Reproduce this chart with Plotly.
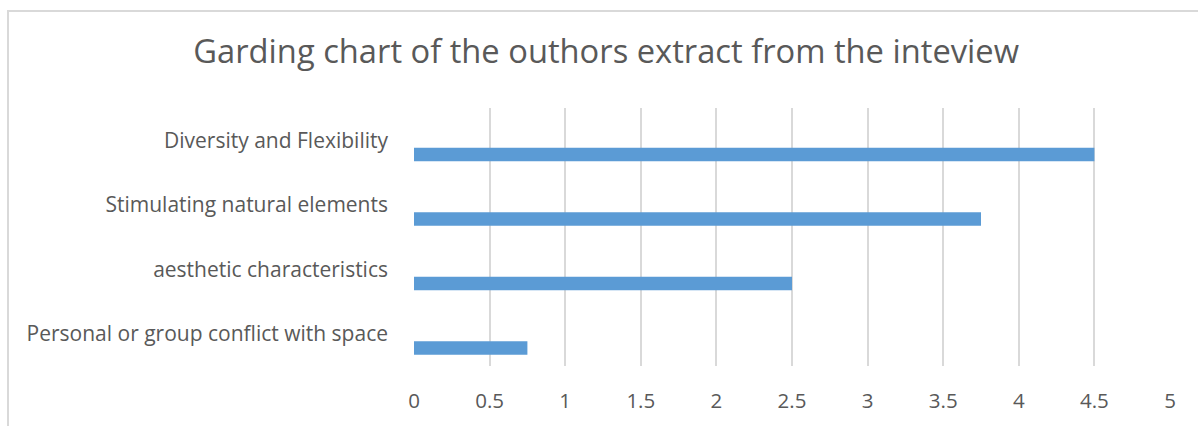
import plotly.graph_objects as go

categories = [
    "Personal or group conflict with space",
    "aesthetic characteristics",
    "Stimulating natural elements",
    "Diversity and Flexibility",
]
values = [0.75, 2.5, 3.75, 4.5]
x_ticks = [0, 0.5, 1, 1.5, 2, 2.5, 3, 3.5, 4, 4.5, 5]
x_tick_labels = ["0", "0.5", "1", "1.5", "2", "2.5", "3", "3.5", "4", "4.5", "5"]

TXT = "#595959"
FONT = "Open Sans"

fig = go.Figure(
    go.Bar(
        x=values,
        y=categories,
        orientation="h",
        marker=dict(color="#5b9bd5", line=dict(width=0)),
        width=0.21,
        offset=-0.325,
        hoverinfo="x+y",
    )
)

L, R, T, B = 414, 28, 108, 56
W, H = 1198, 426
pw, ph = W - L - R, H - T - B

fig.add_shape(
    type="rect", xref="paper", yref="paper",
    x0=(8 - L) / pw, x1=1.2,
    y0=-0.5, y1=(H - B - 9.5) / ph,
    line=dict(color="#d9d9d9", width=2),
    layer="below",
)

fig.update_layout(
    width=W, height=H,
    margin=dict(l=L, r=R, t=T, b=B, pad=0),
    paper_bgcolor="white", plot_bgcolor="white",
    showlegend=False,
    title=dict(
        text="Garding chart of the outhors extract from the inteview",
        x=0.506, xanchor="center", xref="container",
        y=1 - 52 / H, yanchor="middle", yref="container",
        font=dict(family=FONT, size=32.7, color=TXT),
    ),
    font=dict(family=FONT, color=TXT),
    xaxis=dict(
        range=[0, 5],
        tickvals=x_ticks, ticktext=x_tick_labels,
        showgrid=True, gridcolor="#d9d9d9", gridwidth=1.5,
        zeroline=False, showline=False,
        ticks="", ticklabelstandoff=20,
        tickfont=dict(family=FONT, size=20.5, color=TXT),
        fixedrange=True,
    ),
    yaxis=dict(
        type="category",
        categoryorder="array", categoryarray=categories,
        range=[-0.5, 3.5],
        showgrid=False, zeroline=False, showline=False,
        ticks="", ticklabelstandoff=25,
        tickfont=dict(family=FONT, size=21, color=TXT),
        fixedrange=True,
    ),
)

fig.write_html("out.html")
